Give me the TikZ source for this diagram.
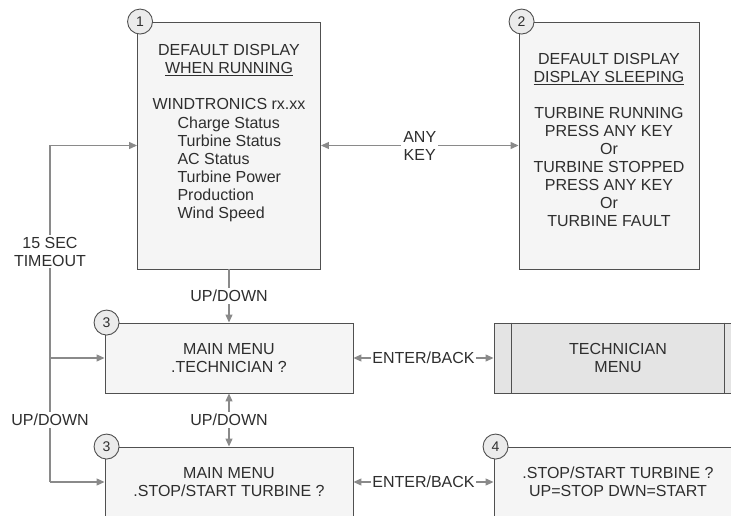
\documentclass[tikz,border=0pt]{standalone}
\usepackage{fontspec}
\setmainfont{Liberation Sans}
\usetikzlibrary{arrows.meta, positioning}
\definecolor{boxline}{HTML}{505050}
\definecolor{boxfill}{HTML}{F5F5F5}
\definecolor{techfill}{HTML}{E4E4E4}
\definecolor{numfill}{HTML}{EBEBEB}
\definecolor{arrowgray}{HTML}{8A8A8A}
\definecolor{txtgray}{HTML}{2E2E2E}

\begin{document}
\begin{tikzpicture}[
x=1pt, y=-1pt,
node distance=20pt,
txt/.style={text=txtgray, font=\fontsize{16}{18}\selectfont, inner sep=0pt, align=center},
box/.style={txt, rectangle, draw=boxline, fill=boxfill, line width=0.9pt},
num/.style={circle, draw=boxline, fill=numfill, line width=0.9pt, minimum size=25pt, inner sep=0pt, text=txtgray, font=\fontsize{14}{16}\selectfont},
line/.style={draw=arrowgray, line width=1.2pt},
arr/.style={line, -{Triangle[length=8pt, width=7pt]}},
twoway/.style={line, {Triangle[length=8pt, width=7pt]}-{Triangle[length=8pt, width=7pt]}},
lbl/.style={txt, fill=white, inner sep=2pt}
]
\useasboundingbox (0,0) rectangle (731,516);
\clip (0,0) rectangle (731,516);

% display boxes
\node[box, minimum width=183pt, minimum height=247pt] (run) at (229,145.5) {};
\node[box, minimum width=180pt, minimum height=247pt] (sleep) at (609,145.5) {};

\node[txt, below=23pt of run.north] (runhead) {DEFAULT DISPLAY\\\underline{WHEN RUNNING}\\[18pt]WINDTRONICS rx.xx};
\node[txt, align=left, below right=6.5pt and 25pt of runhead.south west] (runlist) {Charge Status\\Turbine Status\\AC Status\\Turbine Power\\Production\\Wind Speed};
\node[txt, below=32pt of sleep.north] (sleeptext) {DEFAULT DISPLAY\\\underline{DISPLAY SLEEPING}\\[18pt]TURBINE RUNNING\\PRESS ANY KEY\\Or\\TURBINE STOPPED\\PRESS ANY KEY\\Or\\TURBINE FAULT};

% menu boxes
\node[box, minimum width=248pt, minimum height=70pt] (menutech) at (229,358) {MAIN MENU\\.TECHNICIAN ?};
\node[box, minimum width=248pt, minimum height=70pt] (menustop) at (229,482) {MAIN MENU\\.STOP/START TURBINE ?};
\node[box, fill=techfill, minimum width=248pt, minimum height=70pt] (tech) at (618,358) {TECHNICIAN\\MENU};
\node[box, minimum width=248pt, minimum height=70pt] (stopstart) at (618,482) {.STOP/START TURBINE ?\\UP=STOP DWN=START};
\draw[draw=boxline, line width=0.9pt] ([xshift=18pt]tech.north west) -- ([xshift=18pt]tech.south west);
\draw[draw=boxline, line width=0.9pt] ([xshift=-18pt]tech.north east) -- ([xshift=-18pt]tech.south east);

% step numbers
\node[num] (n1) at ([xshift=3pt]run.north west) {1};
\node[num] (n2) at ([xshift=3pt]sleep.north west) {2};
\node[num] (n3a) at ([xshift=2pt]menutech.north west) {3};
\node[num] (n3b) at ([xshift=2pt]menustop.north west) {3};
\node[num] (n4) at ([xshift=2pt]stopstart.north west) {4};

% connectors
\draw[twoway] (run.east) -- node[lbl] {ANY\\KEY} (sleep.west);
\draw[arr] (run.south) -- node[lbl] {UP/DOWN} (menutech.north);
\draw[twoway] (menutech.south) -- node[lbl] {UP/DOWN} (menustop.north);
\draw[twoway] (menutech.east) -- node[lbl, inner sep=1pt] {ENTER/BACK} (tech.west);
\draw[twoway] (menustop.east) -- node[lbl, inner sep=1pt] {ENTER/BACK} (stopstart.west);

% timeout bus
\coordinate (bustop) at (50,145.5);
\coordinate (busmid) at (50,358);
\coordinate (busend) at (50,482);
\draw[line] (bustop) -- node[lbl] {15 SEC\\TIMEOUT} (busmid) -- node[lbl] {UP/DOWN} (busend);
\draw[arr] (bustop) -- (run.west);
\draw[arr] (busmid) -- (menutech.west);
\draw[arr] (busend) -- (menustop.west);
\end{tikzpicture}
\end{document}
